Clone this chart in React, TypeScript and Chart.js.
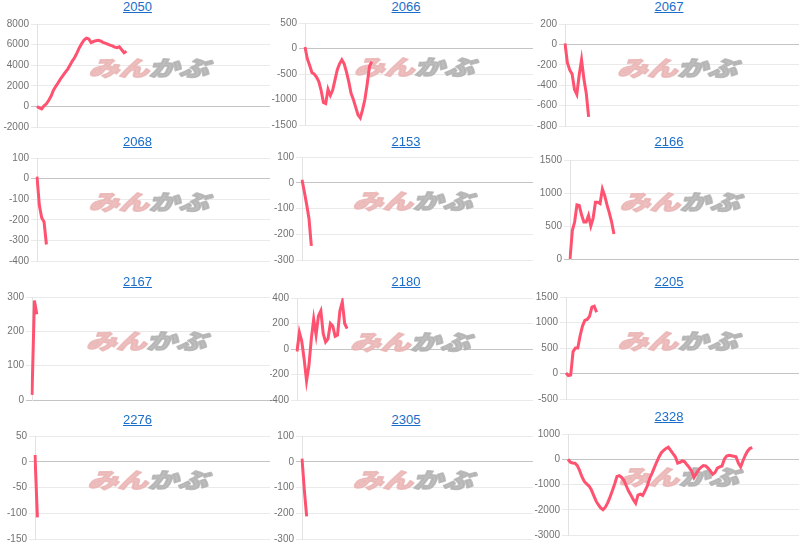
import React, { useEffect, useRef } from 'react';
import { Chart, registerables } from 'chart.js';

Chart.register(...registerables);

const categories = Array.from({ length: 100 }, (_, i) => `${i + 1}`);

const titles = ['2050', '2066', '2067', '2068', '2153', '2166', '2167', '2180', '2205', '2276', '2305', '2328'];

const s2050 = [0, -150, -250, 50, 250, 600, 1000, 1570, 1950, 2300, 2670, 2980, 3300, 3600, 4000, 4400, 4750, 5200, 5700, 6100, 6450, 6620, 6550, 6200, 6300, 6380, 6420, 6350, 6220, 6150, 6050, 5950, 5880, 5750, 5700, 5780, 5500, 5200, 5350];
const s2066 = [30, -200, -330, -470, -500, -560, -650, -820, -1060, -1080, -800, -920, -820, -620, -420, -300, -220, -300, -460, -650, -880, -1000, -1150, -1300, -1360, -1200, -1000, -700, -350, -260];
const s2067 = [10, -180, -250, -290, -440, -490, -300, -150, -340, -480, -710];
const s2068 = [10, -130, -190, -210, -320];
const s2153 = [12, -35, -85, -140, -245];
const s2166 = [0, 430, 560, 820, 810, 670, 560, 560, 660, 500, 620, 860, 860, 840, 1060, 960, 820, 700, 560, 380];
const s2167 = [15, 290, 250];
const s2180 = [-20, 130, 60, -80, -250, -130, 80, 235, 110, 260, 300, 120, 55, 80, 200, 180, 100, 110, 300, 370, 200, 160];
const s2205 = [10, -40, -30, 430, 500, 500, 740, 930, 1040, 1060, 1120, 1300, 1320, 1200];
const s2276 = [13, -108];
const s2305 = [12, -110, -212];
const s2328 = [0, -120, -150, -160, -250, -450, -700, -880, -980, -1060, -1210, -1430, -1650, -1800, -1930, -2000, -1900, -1730, -1500, -1250, -980, -680, -650, -720, -840, -1060, -1270, -1430, -1600, -1740, -1420, -1380, -1430, -1250, -1060, -760, -560, -330, -110, 90, 260, 350, 430, 475, 350, 220, 100, -150, -120, -60, -100, -220, -330, -470, -720, -560, -420, -320, -250, -260, -350, -460, -600, -530, -350, -300, -270, 0, 130, 160, 140, 120, 100, -150, -300, -60, 160, 330, 430, 460];

const yTicks2050 = [-2000, 0, 2000, 4000, 6000, 8000];
const yTicks2066 = [-1500, -1000, -500, 0, 500];
const yTicks2067 = [-800, -600, -400, -200, 0, 200];
const yTicks2068 = [-400, -300, -200, -100, 0, 100];
const yTicks2153 = [-300, -200, -100, 0, 100];
const yTicks2166 = [0, 500, 1000, 1500];
const yTicks2167 = [0, 100, 200, 300];
const yTicks2180 = [-400, -200, 0, 200, 400];
const yTicks2205 = [-500, 0, 500, 1000, 1500];
const yTicks2276 = [-150, -100, -50, 0, 50];
const yTicks2305 = [-300, -200, -100, 0, 100];
const yTicks2328 = [-3000, -2000, -1000, 0, 1000];

const seriesList = [s2050, s2066, s2067, s2068, s2153, s2166, s2167, s2180, s2205, s2276, s2305, s2328];
const tickList = [yTicks2050, yTicks2066, yTicks2067, yTicks2068, yTicks2153, yTicks2166, yTicks2167, yTicks2180, yTicks2205, yTicks2276, yTicks2305, yTicks2328];

// layout (pixels)
const colLeft = [0, 270, 533];
const colRight = [268, 531, 797];
const titleCenterX = [137.5, 406, 669];
const axisX = [
  [37, 305, 565],
  [37, 302, 570],
  [32, 297, 566],
  [35, 302, 568],
];
const areaTop = [
  [22, 21, 22],
  [156, 155, 158],
  [295, 296, 295],
  [434, 434, 432],
];
const areaBottom = [
  [129, 127, 128],
  [263, 262, 261],
  [402, 402, 401],
  [541, 541, 537],
];
const titleY = [
  [7, 7, 7],
  [142, 142, 142],
  [282, 282, 282],
  [420, 420, 417],
];

const LINE_COLOR = 'rgb(255, 82, 112)';

const watermark = {
  id: 'minkabuWatermark',
  beforeDatasetsDraw(chart: any) {
    const { ctx, chartArea } = chart;
    const cx = (chartArea.left + chartArea.right) / 2 - 2;
    const cy = (chartArea.top + chartArea.bottom) / 2 - 7;
    ctx.save();
    ctx.translate(cx, cy);
    ctx.transform(1, 0, -0.35, 1, 0, 0);
    ctx.scale(1.5, 1.05);
    ctx.font = '900 20px "Noto Sans CJK JP"';
    ctx.textBaseline = 'middle';
    ctx.lineJoin = 'round';
    const w1 = ctx.measureText('みん').width;
    const w2 = ctx.measureText('かぶ').width;
    const gap = 0;
    const total = w1 + gap + w2;
    const pink = 'rgba(234, 180, 180, 0.85)';
    const gray = 'rgba(178, 178, 178, 0.85)';
    ctx.lineWidth = 1.6;
    ctx.fillStyle = pink;
    ctx.strokeStyle = pink;
    ctx.strokeText('みん', -total / 2, 0);
    ctx.fillText('みん', -total / 2, 0);
    ctx.fillStyle = gray;
    ctx.strokeStyle = gray;
    ctx.strokeText('かぶ', -total / 2 + w1 + gap, 0);
    ctx.fillText('かぶ', -total / 2 + w1 + gap, 0);
    ctx.restore();
  },
};

function MiniChart({ idx }: { idx: number }) {
  const ref = useRef<HTMLCanvasElement | null>(null);
  const r = Math.floor(idx / 3);
  const c = idx % 3;
  const left = colLeft[c];
  const top = areaTop[r][c] - 6;
  const width = colRight[c] + 2 - left;
  const height = areaBottom[r][c] - areaTop[r][c] + 12;
  const ticks = tickList[idx];

  useEffect(() => {
    if (!ref.current) return;
    const axisWidth = axisX[r][c] - left;
    const chart = new Chart(ref.current, {
      type: 'line',
      data: {
        labels: categories,
        datasets: [
          {
            data: seriesList[idx],
            borderColor: LINE_COLOR,
            backgroundColor: LINE_COLOR,
            borderWidth: 3,
            pointRadius: 0,
            tension: 0,
            fill: false,
          },
        ],
      },
      options: {
        responsive: false,
        animation: false,
        layout: { padding: { left: 0, right: 0, top: 0, bottom: 0 } },
        plugins: {
          legend: { display: false },
          title: { display: false },
          tooltip: { enabled: false },
        },
        scales: {
          x: { display: false },
          y: {
            min: ticks[0],
            max: ticks[ticks.length - 1],
            afterFit: (scale: any) => {
              scale.width = axisWidth;
            },
            ticks: {
              stepSize: ticks[1] - ticks[0],
              color: '#727272',
              padding: 2,
              font: { family: 'Arial, "Liberation Sans", sans-serif', size: 10 },
              callback: (v: any) => String(v),
            },
            grid: {
              color: (ctx: any) => (ctx.tick && ctx.tick.value === 0 ? '#c4c4c4' : '#eaeaea'),
              tickLength: 6,
              lineWidth: 1,
            },
            border: { display: true, color: '#e2e2e2' },
          },
        },
      },
      plugins: [watermark],
    });
    return () => chart.destroy();
  }, [idx]);

  return (
    <>
      <canvas
        ref={ref}
        width={width}
        height={height}
        style={{ position: 'absolute', left, top, width, height }}
      />
      <a
        href="#"
        onClick={(e) => e.preventDefault()}
        style={{
          position: 'absolute',
          left: titleCenterX[c],
          top: titleY[r][c] - 8,
          transform: 'translateX(-50%)',
          fontFamily: 'Arial, "Liberation Sans", sans-serif',
          fontSize: 13,
          lineHeight: '16px',
          color: '#1a6dc8',
          textDecoration: 'underline',
          whiteSpace: 'nowrap',
        }}
      >
        {titles[idx]}
      </a>
    </>
  );
}

export default function App() {
  return (
    <div
      style={{
        position: 'absolute',
        left: 0,
        top: 0,
        width: 800,
        height: 549,
        background: '#ffffff',
        overflow: 'hidden',
      }}
    >
      {titles.map((_, i) => (
        <MiniChart key={i} idx={i} />
      ))}
    </div>
  );
}
